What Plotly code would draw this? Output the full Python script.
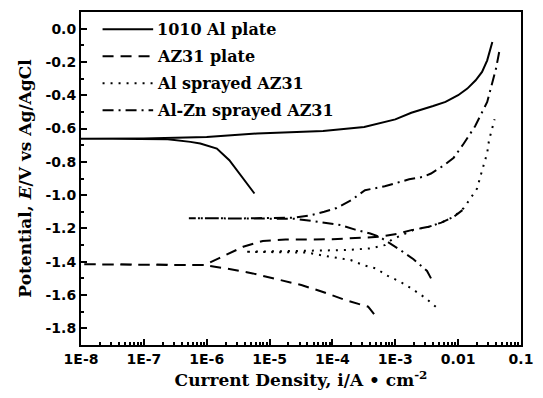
import plotly.graph_objects as go

# ---- data (current density A/cm^2, potential V vs Ag/AgCl)
al1010_i = [5.75e-6, 3.8e-6, 2.29e-6, 1.45e-6, 7.9e-7, 5.5e-7, 2.4e-7, 3.2e-8, 1e-8,
            1e-7, 1e-6, 6.3e-6, 7.1e-5, 3.2e-4, 1e-3, 1.8e-3, 4.0e-3, 6.3e-3, 1e-2,
            1.4e-2, 1.9e-2, 2.4e-2, 2.9e-2, 3.2e-2, 3.5e-2]
al1010_E = [-0.99, -0.90, -0.79, -0.72, -0.69, -0.68, -0.665, -0.662, -0.662,
            -0.66, -0.65, -0.63, -0.615, -0.59, -0.545, -0.505, -0.465, -0.44, -0.40,
            -0.36, -0.31, -0.26, -0.19, -0.13, -0.08]

az31_i = [4.6e-4, 3.7e-4, 1.6e-4, 6.9e-5, 3.2e-5, 1.2e-5, 5.4e-6, 2.0e-6, 9.1e-7, 1e-7, 1e-8,
          1e-7, 9.1e-7, 1.55e-6, 3.8e-6, 7.8e-6, 1.8e-5, 1e-4, 5.6e-4, 1.15e-3, 1.8e-3,
          3.4e-3, 5.4e-3, 8.5e-3, 1.17e-2]
az31_E = [-1.715, -1.67, -1.63, -1.58, -1.54, -1.50, -1.47, -1.44, -1.42, -1.418, -1.415,
          -1.418, -1.42, -1.38, -1.31, -1.275, -1.267, -1.265, -1.25, -1.23, -1.21,
          -1.19, -1.165, -1.13, -1.09]

alspray_i = [4.4e-3, 2.95e-3, 1.8e-3, 1.2e-3, 7.6e-4, 4.9e-4, 3.1e-4, 1.95e-4, 8.1e-5, 4.0e-5, 4.0e-6,
             3.2e-5, 1.6e-4, 4.0e-4, 6.8e-4, 8.9e-4, 1.6e-3, 2.0e-3, 3.4e-3, 5.4e-3, 8.5e-3,
             1.23e-2, 1.5e-2, 2.0e-2, 2.24e-2, 2.6e-2, 2.9e-2, 3.1e-2, 3.5e-2, 3.8e-2]
alspray_E = [-1.67, -1.615, -1.56, -1.52, -1.485, -1.44, -1.42, -1.39, -1.367, -1.345, -1.34,
             -1.335, -1.33, -1.32, -1.30, -1.266, -1.22, -1.207, -1.19, -1.165, -1.13,
             -1.077, -1.03, -0.96, -0.893, -0.81, -0.746, -0.67, -0.60, -0.544]

alzn_i = [3.7e-3, 3.2e-3, 1.95e-3, 1.15e-3, 5.6e-4, 4.0e-4, 2.3e-4, 1.35e-4, 4.6e-5, 2.5e-5, 3.2e-6, 5.2e-7,
          3.2e-6, 2.5e-5, 4.6e-5, 7.4e-5, 1.17e-4, 2.0e-4, 3.3e-4, 6.8e-4, 9.8e-4, 1.66e-3,
          2.8e-3, 3.7e-3, 6.0e-3, 8.5e-3, 1.23e-2, 1.86e-2, 2.9e-2, 3.5e-2, 4.0e-2, 4.5e-2]
alzn_E = [-1.50, -1.455, -1.385, -1.325, -1.25, -1.23, -1.207, -1.18, -1.154, -1.142, -1.14, -1.138,
          -1.14, -1.135, -1.12, -1.10, -1.077, -1.03, -0.97, -0.947, -0.93, -0.905,
          -0.89, -0.87, -0.82, -0.775, -0.69, -0.586, -0.44, -0.32, -0.24, -0.14]

names = ["1010 Al plate", "AZ31 plate", "Al sprayed AZ31", "Al-Zn sprayed AZ31"]
dashes = ["solid", "11px,7px", "2px,6px", "11px,5px,2px,5px"]

x_tickvals = [1e-8, 1e-7, 1e-6, 1e-5, 1e-4, 1e-3, 1e-2, 1e-1]
x_ticktext = ["1E-8", "1E-7", "1E-6", "1E-5", "1E-4", "1E-3", "0.01", "0.1"]
y_tickvals = [0.0, -0.2, -0.4, -0.6, -0.8, -1.0, -1.2, -1.4, -1.6, -1.8]
y_ticktext = ["0.0", "-0.2", "-0.4", "-0.6", "-0.8", "-1.0", "-1.2", "-1.4", "-1.6", "-1.8"]

serif = "DejaVu Serif"
sans = "DejaVu Sans"

fig = go.Figure()
series = [(al1010_i, al1010_E), (az31_i, az31_E), (alspray_i, alspray_E), (alzn_i, alzn_E)]
for (xi, yi), nm, dash in zip(series, names, dashes):
    fig.add_trace(go.Scatter(x=xi, y=yi, mode="lines", name=nm, showlegend=False,
                             line=dict(color="black", width=2, dash=dash)))

# legend drawn as line samples + text, placed top-left inside the frame
leg_rows = [0.948, 0.867, 0.786, 0.705]
for nm, dash, yr in zip(names, dashes, leg_rows):
    fig.add_shape(type="line", xref="paper", yref="paper", x0=0.049, x1=0.164, y0=yr, y1=yr,
                  line=dict(color="black", width=2, dash=dash))
    fig.add_annotation(xref="paper", yref="paper", x=0.168, y=yr, text=nm, showarrow=False,
                       xanchor="left", yanchor="middle",
                       font=dict(family=serif, size=16, color="black", weight="bold"))

fig.update_layout(
    width=543, height=398,
    margin=dict(l=81, r=12, t=10, b=53),
    paper_bgcolor="white", plot_bgcolor="white",
    showlegend=False,
    xaxis=dict(type="log", range=[-8, -1], tickvals=x_tickvals, ticktext=x_ticktext,
               ticks="inside", ticklen=6, tickwidth=1.5, tickcolor="black",
               ticklabeloverflow="allow",
               minor=dict(ticks="inside", ticklen=3, tickcolor="black", dtick="D1"),
               showline=True, linecolor="black", linewidth=2, mirror=True,
               showgrid=False, zeroline=False,
               tickfont=dict(family=sans, size=14, color="black", weight="bold"),
               title=dict(text="Current Density, i/A \u2022 cm<sup>-2</sup>",
                          font=dict(family=serif, size=17, color="black", weight="bold"),
                          standoff=8)),
    yaxis=dict(range=[-1.9, 0.1], tickvals=y_tickvals, ticktext=y_ticktext,
               ticks="inside", ticklen=6, tickwidth=1.5, tickcolor="black",
               minor=dict(ticks="inside", ticklen=3, tickcolor="black", dtick=0.1),
               showline=True, linecolor="black", linewidth=2, mirror=True,
               showgrid=False, zeroline=False,
               tickfont=dict(family=sans, size=14, color="black", weight="bold"),
               title=dict(text="Potential, <i>E</i>/V vs Ag/AgCl",
                          font=dict(family=serif, size=17, color="black", weight="bold"),
                          standoff=10)),
)

fig.write_html("out.html", config={"displayModeBar": False},
               post_script="document.body.style.margin='0';")
